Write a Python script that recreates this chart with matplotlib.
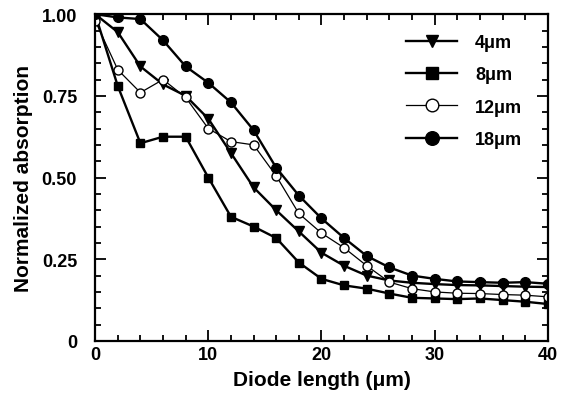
import matplotlib.pyplot as plt
from matplotlib.ticker import MultipleLocator

plt.rcParams['font.family'] = ['Liberation Sans', 'DejaVu Sans']
plt.rcParams['font.weight'] = 'bold'

# Diode length (um), one point every 2 um
length = [0, 2, 4, 6, 8, 10, 12, 14, 16, 18, 20,
          22, 24, 26, 28, 30, 32, 34, 36, 38, 40]

abs_4um = [1.00, 0.945, 0.84, 0.785, 0.75, 0.68, 0.575, 0.47, 0.40, 0.335, 0.27,
           0.23, 0.20, 0.185, 0.178, 0.174, 0.171, 0.17, 0.168, 0.166, 0.165]
abs_8um = [1.00, 0.78, 0.605, 0.625, 0.625, 0.50, 0.38, 0.35, 0.315, 0.24, 0.19,
           0.17, 0.16, 0.145, 0.132, 0.13, 0.128, 0.13, 0.125, 0.12, 0.113]
abs_12um = [0.98, 0.83, 0.76, 0.80, 0.745, 0.65, 0.61, 0.60, 0.505, 0.39, 0.33,
            0.285, 0.23, 0.18, 0.16, 0.15, 0.146, 0.145, 0.142, 0.14, 0.135]
abs_18um = [1.00, 0.99, 0.985, 0.92, 0.84, 0.79, 0.73, 0.645, 0.53, 0.445, 0.375,
            0.315, 0.26, 0.225, 0.20, 0.19, 0.182, 0.18, 0.178, 0.18, 0.175]

fig = plt.figure(figsize=(5.63, 4.10), dpi=100)
ax = fig.add_axes([0.169, 0.166, 0.804, 0.797])

ax.plot(length, abs_4um, marker='v', color='black', lw=1.7, ms=6.5, label='4\u03bcm')
ax.plot(length, abs_8um, marker='s', color='black', lw=1.7, ms=6, label='8\u03bcm')
ax.plot(length, abs_12um, marker='o', color='black', mfc='white', lw=0.9, ms=6.5,
        label='12\u03bcm')
ax.plot(length, abs_18um, marker='o', color='black', lw=1.7, ms=7, label='18\u03bcm')

ax.set_xlim(0, 40)
ax.set_ylim(0, 1.0)
ax.xaxis.set_major_locator(MultipleLocator(10))
ax.xaxis.set_minor_locator(MultipleLocator(2))
ax.yaxis.set_minor_locator(MultipleLocator(0.05))
ax.set_yticks([0, 0.25, 0.5, 0.75, 1.0])
ax.set_yticklabels(['0', '0.25', '0.50', '0.75', '1.00'])

ax.tick_params(which='both', direction='in', top=True, right=True, width=1.3,
               labelsize=13)
ax.tick_params(which='major', length=8)
ax.tick_params(which='minor', length=4)
ax.tick_params(axis='y', pad=13)
for s in ax.spines.values():
    s.set_linewidth(1.6)

ax.set_xlabel('Diode length (\u03bcm)', fontsize=15, fontweight='bold', labelpad=5)
ax.set_ylabel('Normalized absorption', fontsize=15, fontweight='bold', labelpad=6)

ax.legend(loc='upper left', bbox_to_anchor=(0.722, 0.915),
          bbox_transform=fig.transFigure, frameon=False, borderpad=0,
          borderaxespad=0, fontsize=13, handlelength=2.8, handletextpad=1.0,
          labelspacing=0.85, markerscale=1.4)

plt.savefig('out.png', dpi=100)
